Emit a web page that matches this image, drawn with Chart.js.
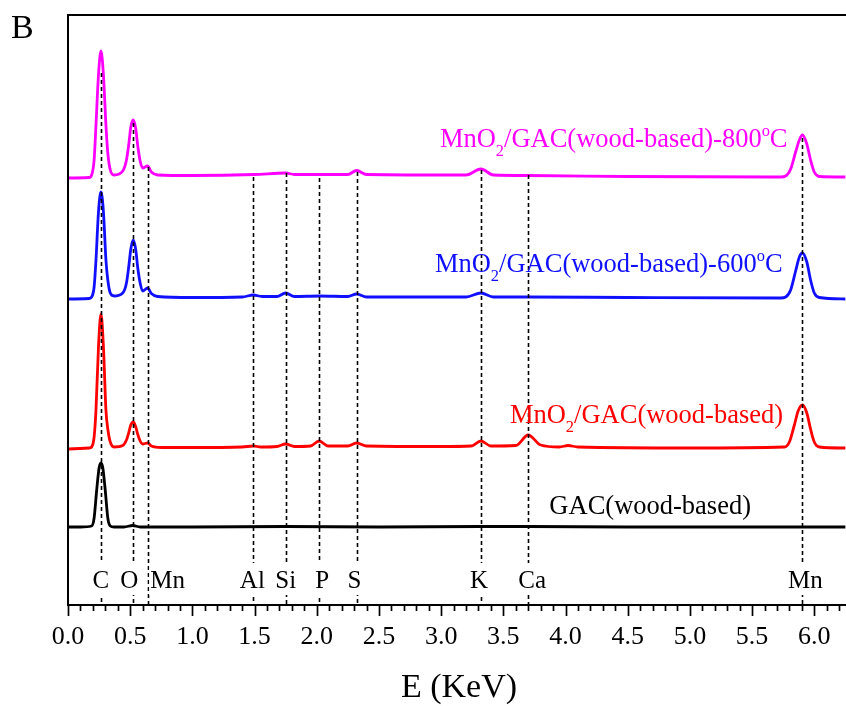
<!DOCTYPE html>
<html>
<head>
<meta charset="utf-8">
<script src="https://cdn.jsdelivr.net/npm/chart.js@4.4.1/dist/chart.umd.min.js"></script>
<style>
    html, body { margin: 0; padding: 0; background: #fff; }
    canvas { display: block; }
</style>
</head>
<body>
<canvas id="eds" width="846" height="706"></canvas>
<script>
// EDS spectra, energy in KeV, intensity in a.u. (curves stacked as in the figure)
const gacE = [0.00, 0.10, 0.19, 0.21, 0.23, 0.25, 0.265, 0.28, 0.30, 0.32, 0.34, 0.37, 0.45, 0.52, 0.58, 1.00, 1.75, 2.50, 3.32, 3.70, 4.50, 5.90, 6.25];
const gacI = [78, 78, 79, 87, 114, 137, 142, 137, 114, 87, 79, 78, 78, 79.5, 78, 78, 78.5, 78, 78.5, 78.5, 78, 78, 78];

const mno2E = [0.00, 0.17, 0.19, 0.21, 0.225, 0.245, 0.265, 0.285, 0.305, 0.32, 0.34, 0.37, 0.44, 0.47, 0.49, 0.505, 0.525, 0.545, 0.56, 0.58, 0.60, 0.64, 0.67, 0.75,
    1.00, 1.40, 1.49, 1.55, 1.68, 1.75, 1.82, 1.95, 2.02, 2.09, 2.25, 2.32, 2.40, 3.00, 3.24, 3.32, 3.40, 3.60, 3.70, 3.80, 3.95, 4.02, 4.10,
    5.00, 5.76, 5.80, 5.84, 5.87, 5.905, 5.94, 5.97, 6.00, 6.04, 6.25];
const mno2I = [156, 157, 158, 168, 195, 258, 291, 258, 195, 176, 163, 158, 159.5, 165, 173, 180, 183, 178, 171, 164, 161, 162, 159, 157.5,
    157.5, 158, 159, 158, 158.5, 161, 158.5, 159, 164, 159, 159, 162, 159, 158.5, 159, 164, 159, 159.5, 170, 160, 158, 159.5, 158,
    157, 158, 163, 180, 194, 200, 192, 176, 163, 158, 157];

const mno600E = [0.00, 0.17, 0.19, 0.21, 0.225, 0.245, 0.265, 0.285, 0.305, 0.32, 0.34, 0.37, 0.44, 0.47, 0.49, 0.505, 0.525, 0.545, 0.56, 0.58, 0.60, 0.64, 0.67, 0.72,
    1.00, 1.40, 1.49, 1.56, 1.68, 1.75, 1.82, 2.02, 2.25, 2.32, 2.40, 3.20, 3.32, 3.42, 3.70, 4.50,
    5.73, 5.77, 5.81, 5.85, 5.88, 5.905, 5.94, 5.97, 6.00, 6.04, 6.25];
const mno600I = [306, 306.5, 308, 318, 345, 393, 413, 393, 345, 325, 312, 309, 312, 322, 340, 356, 365, 355, 338, 322, 314, 317, 311.5, 308.5,
    307.5, 308, 310, 308.5, 308.5, 312, 308.5, 309, 308.5, 311, 308, 308, 312, 308, 308, 307.5,
    307, 308, 315, 334, 348, 352, 343, 325, 312, 307.5, 306];

const mno800E = [0.00, 0.17, 0.19, 0.21, 0.225, 0.245, 0.265, 0.285, 0.305, 0.32, 0.34, 0.37, 0.44, 0.47, 0.49, 0.505, 0.525, 0.545, 0.56, 0.58, 0.60, 0.64, 0.67, 0.72,
    1.00, 1.50, 1.75, 1.82, 2.25, 2.32, 2.40, 3.20, 3.32, 3.42, 3.70, 4.50,
    5.73, 5.77, 5.81, 5.85, 5.88, 5.905, 5.94, 5.97, 6.00, 6.04, 6.25];
const mno800I = [427, 427.5, 430, 445, 480, 530, 554, 530, 480, 452, 435, 430, 434, 445, 462, 478, 485, 476, 460, 444, 437, 439, 433, 430,
    429.5, 430.5, 432, 430.5, 430.5, 434.5, 430.5, 430, 436, 430, 429.5, 428.5,
    428, 429, 436, 453, 465, 470, 461, 445, 433, 428.5, 428];

const seriesNames = ['GAC(wood-based)', 'MnO_2/GAC(wood-based)', 'MnO_2/GAC(wood-based)-600^oC', 'MnO_2/GAC(wood-based)-800^oC'];
const seriesColors = ['#000000', '#ff0000', '#1010ff', '#ff00ff'];

// element reference lines
const elements = ['C', 'O', 'Mn', 'Al', 'Si', 'P', 'S', 'K', 'Ca', 'Mn'];
const elementE = [0.265, 0.525, 0.64, 1.49, 1.75, 2.02, 2.32, 3.32, 3.70, 5.905];
const elementTop = [532, 482, 438, 428, 432, 427, 433, 435, 430, 467];

const xTickLabels = ['0.0', '0.5', '1.0', '1.5', '2.0', '2.5', '3.0', '3.5', '4.0', '4.5', '5.0', '5.5', '6.0'];

// layout bits (pixels)
const serif = "'Liberation Serif', 'Times New Roman', serif";
const elemLabelDx = [0, -4, 20, -1, 0, 3, -2, -2, 4, 3];
const nameAnchor = [[3.87, 91], [3.553, 182], [2.95, 333], [2.99, 458]]; // [E, intensity] of text start

function zip(es, is) {
    return es.map((e, i) => ({ x: e, y: is[i] }));
}

// text with _x subscripts and ^x superscripts
function drawRich(ctx, str, x, y, size) {
    const parts = str.split(/(_.|\^.)/).filter(s => s);
    let cx = x;
    parts.forEach(p => {
        let t = p, fs = size, dy = 0;
        if (p[0] === '_') { t = p.slice(1); fs = size * 0.62; dy = size * 0.34; }
        else if (p[0] === '^') { t = p.slice(1); fs = size * 0.62; dy = -size * 0.42; }
        ctx.font = fs + 'px ' + serif;
        ctx.fillText(t, cx, y + dy);
        cx += ctx.measureText(t).width;
    });
}

const decor = {
    id: 'decor',
    afterDatasetsDraw(chart) {
        const ctx = chart.ctx;
        const xs = chart.scales.x, ys = chart.scales.y;
        const area = chart.chartArea;
        ctx.save();
        // dashed element lines
        ctx.strokeStyle = '#000';
        ctx.lineWidth = 1.6;
        ctx.setLineDash([4, 3]);
        elementE.forEach((e, i) => {
            const px = Math.round(xs.getPixelForValue(e)) + 0.5;
            ctx.beginPath();
            ctx.moveTo(px, ys.getPixelForValue(elementTop[i]));
            ctx.lineTo(px, area.bottom);
            ctx.stroke();
        });
        ctx.setLineDash([]);
        // element labels on white boxes
        ctx.font = '25px ' + serif;
        ctx.textAlign = 'center';
        ctx.textBaseline = 'alphabetic';
        elements.forEach((el, i) => {
            const px = xs.getPixelForValue(elementE[i]) + elemLabelDx[i];
            const w = ctx.measureText(el).width;
            ctx.fillStyle = '#fff';
            ctx.fillRect(px - w / 2 - 1, 563, w + 2, 32);
            ctx.fillStyle = '#000';
            ctx.fillText(el, px, 588);
        });
        ctx.restore();
    },
    afterDraw(chart) {
        const ctx = chart.ctx;
        const xs = chart.scales.x, ys = chart.scales.y;
        const area = chart.chartArea;
        ctx.save();
        // frame
        ctx.strokeStyle = '#000';
        ctx.lineWidth = 2;
        ctx.beginPath();
        ctx.moveTo(chart.width, area.top);
        ctx.lineTo(area.left, area.top);
        ctx.lineTo(area.left, area.bottom);
        ctx.lineTo(chart.width, area.bottom);
        ctx.stroke();
        // ticks every 0.1, long ones every 0.5
        ctx.lineWidth = 1.7;
        for (let i = 0; i <= 62; i++) {
            const px = Math.round(xs.getPixelForValue(i / 10)) + 0.5;
            ctx.beginPath();
            ctx.moveTo(px, area.bottom);
            ctx.lineTo(px, area.bottom + (i % 5 === 0 ? 11 : 6));
            ctx.stroke();
        }
        ctx.fillStyle = '#000';
        ctx.font = '26px ' + serif;
        ctx.textAlign = 'center';
        ctx.textBaseline = 'middle';
        xTickLabels.forEach(t => {
            ctx.fillText(t, xs.getPixelForValue(parseFloat(t)), 637);
        });
        ctx.font = '34px ' + serif;
        ctx.fillText('E (KeV)', 459, 688);
        // panel letter
        ctx.textAlign = 'left';
        ctx.textBaseline = 'alphabetic';
        ctx.font = '34px ' + serif;
        ctx.fillText('B', 11, 38);
        // series names
        seriesNames.forEach((n, i) => {
            ctx.fillStyle = seriesColors[i];
            drawRich(ctx, n, xs.getPixelForValue(nameAnchor[i][0]), ys.getPixelForValue(nameAnchor[i][1]), 26.5);
        });
        ctx.restore();
    }
};

const series = [zip(gacE, gacI), zip(mno2E, mno2I), zip(mno600E, mno600I), zip(mno800E, mno800I)];

new Chart(document.getElementById('eds'), {
    type: 'line',
    data: {
        datasets: series.map((d, i) => ({
            label: seriesNames[i],
            data: d,
            borderColor: seriesColors[i],
            borderWidth: 2.8,
            pointRadius: 0,
            fill: false,
            cubicInterpolationMode: 'monotone'
        }))
    },
    options: {
        responsive: false,
        animation: false,
        layout: { padding: { left: 68, top: 15, right: 0, bottom: 101 } },
        scales: {
            x: { type: 'linear', min: 0, max: 6.255, display: false },
            y: { min: 0, max: 590, display: false }
        },
        plugins: {
            legend: { display: false },
            tooltip: { enabled: false }
        }
    },
    plugins: [decor]
});
</script>
</body>
</html>
